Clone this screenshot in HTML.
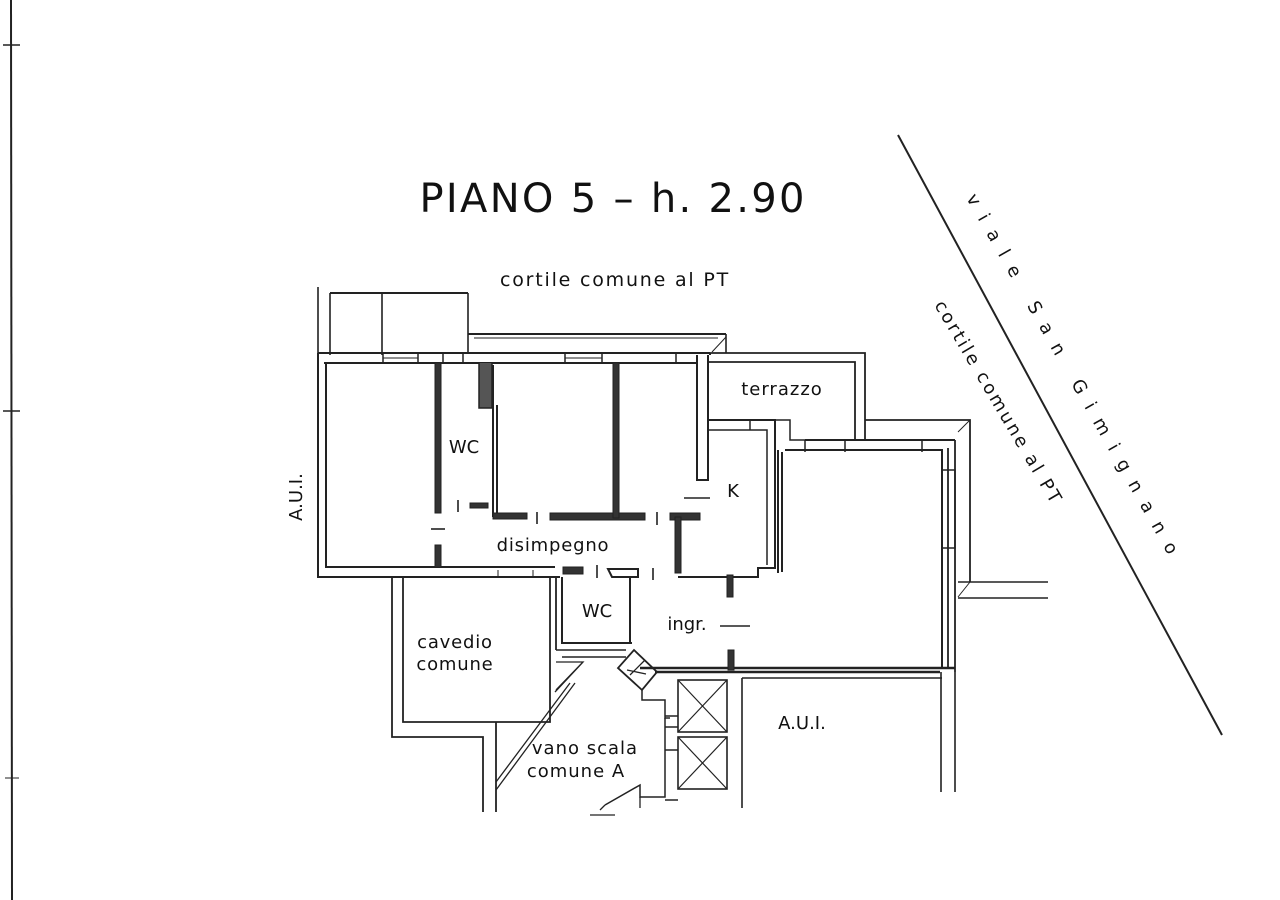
<!DOCTYPE html>
<html><head><meta charset="utf-8"><style>
html,body{margin:0;padding:0;background:#fff;}
svg{display:block}
text{font-family:"DejaVu Sans","Liberation Sans",sans-serif;fill:#111}
</style></head><body>
<svg width="1280" height="900" viewBox="0 0 1280 900" xmlns="http://www.w3.org/2000/svg">
<g stroke="#222" fill="none" stroke-width="1.6">
<line x1="11" y1="0" x2="12" y2="900" stroke-width="2"/>
<line x1="3" y1="45" x2="20" y2="45"/><line x1="3" y1="411" x2="20" y2="411"/><line x1="5" y1="778" x2="19" y2="778" stroke-width="1"/>
<line x1="898" y1="135" x2="1222" y2="735" stroke-width="2"/>
<line x1="318" y1="287" x2="318" y2="355"/>
<line x1="330" y1="293" x2="330" y2="355"/>
<line x1="330" y1="293" x2="468" y2="293" stroke-width="2"/>
<line x1="382" y1="293" x2="382" y2="355"/>
<line x1="468" y1="293" x2="468" y2="353"/>
<line x1="468" y1="334" x2="726" y2="334" stroke-width="2"/>
<line x1="474" y1="338" x2="718" y2="338" stroke-width="1"/>
<line x1="726" y1="334" x2="726" y2="353"/>
<line x1="726" y1="337" x2="712" y2="352" stroke-width="1"/>
<path d="M318 353 H710 M324 363 H697 M710 353 V355" stroke-width="2"/>
<path d="M383 353V363 M418 353V363 M443 353V363 M463 353V363 M565 353V363 M602 353V363 M676 353V363" stroke-width="1.5"/>
<line x1="383" y1="358" x2="418" y2="358" stroke-width="1"/>
<line x1="565" y1="358" x2="602" y2="358" stroke-width="1"/>
<path d="M318 353 V577 H560 M326 363 V567 H555" stroke-width="2"/>
<rect x="435" y="363" width="6" height="150" fill="#333" stroke-width="1"/>
<rect x="435" y="545" width="6" height="22" fill="#333" stroke-width="1"/>
<line x1="431" y1="529" x2="445" y2="529"/>
<path d="M479 363 V408 H492 V363" stroke-width="1.5" fill="#555"/>
<path d="M493 365 V517 M497 405 V513" stroke-width="2"/>
<rect x="493" y="513" width="34" height="6" fill="#333" stroke-width="1"/>
<rect x="470" y="503" width="18" height="5" fill="#333" stroke-width="1"/>
<line x1="458" y1="500" x2="458" y2="512"/>
<line x1="537" y1="512" x2="537" y2="524"/>
<rect x="550" y="513" width="95" height="7" fill="#333" stroke-width="1"/>
<rect x="613" y="363" width="6" height="155" fill="#333" stroke-width="1"/>
<line x1="657" y1="512" x2="657" y2="525"/>
<rect x="670" y="513" width="30" height="7" fill="#333" stroke-width="1"/>
<rect x="675" y="517" width="6" height="56" fill="#333" stroke-width="1"/>
<path d="M697 355 V480 H708 V355" stroke-width="2"/>
<line x1="684" y1="498" x2="710" y2="498"/>
<path d="M708 420 H775 V568 H758 V577 H678" stroke-width="2"/>
<path d="M708 430 H767 V565" stroke-width="1.5"/>
<path d="M750 420 V430" stroke-width="1.5"/>
<rect x="727" y="575" width="6" height="22" fill="#333" stroke-width="1"/>
<path d="M708 353 H865 V440 M708 362 H855 V440" stroke-width="1.8"/>
<path d="M775 420 H790 V440 H805" stroke-width="1.5"/>
<path d="M805 440 H955 M778 450 V573 M785 450 H942 V668 M782 452 V572" stroke-width="2"/>
<path d="M805 440 V452 M845 440 V452 M922 440 V452" stroke-width="1.5"/>
<path d="M865 420 H970 V582 M955 440 V672 M948 448 V668" stroke-width="1.8"/>
<path d="M970 420 L958 432" stroke-width="1"/>
<rect x="942" y="470" width="13" height="78" stroke-width="1.5"/>
<path d="M970 582 L958 597" stroke-width="1"/>
<line x1="958" y1="582" x2="1048" y2="582"/>
<line x1="958" y1="598" x2="1048" y2="598"/>
<path d="M640 668 H955 M655 672 H940" stroke-width="2.5"/>
<rect x="728" y="650" width="6" height="20" fill="#333" stroke-width="1"/>
<line x1="720" y1="626" x2="750" y2="626"/>
<rect x="563" y="567" width="20" height="7" fill="#333" stroke-width="1"/>
<line x1="597" y1="565" x2="597" y2="578"/>
<path d="M608 569 H638 V577 H612 Z" stroke-width="2"/>
<line x1="653" y1="568" x2="653" y2="580"/>
<line x1="498" y1="570" x2="498" y2="577" stroke-width="1"/>
<line x1="533" y1="570" x2="533" y2="577" stroke-width="1"/>
<path d="M392 577 V737 H483 V812 M403 577 V722 H550 V577 M550 583 V722 M556 577 V650 M496 722 V812" stroke-width="1.8"/>
<path d="M562 577 V643 H632 M630 577 V643" stroke-width="2"/>
<path d="M556 650 H626 M562 657 H626" stroke-width="1.5"/>
<path d="M556 662 H583 L556 690 M583 662 L555 692 M496 790 L575 683 M496 782 L570 683" stroke-width="1.3"/>
<path d="M634 650 L657 672 L642 690 L618 668 Z" stroke-width="1.8"/>
<path d="M645 660 L630 675 M627 670 L646 674" stroke-width="1.3"/>
<path d="M655 668 H665 M642 690 V700 H665 V718 H670" stroke-width="1.5"/>
<path d="M665 718 V797 H640 V785 L605 805 M665 716 H678 M665 727 H678 M665 750 H678 M665 800 H678" stroke-width="1.5"/>
<path d="M640 797 V808 M605 805 L600 810 M590 815 H615" stroke-width="1.3"/>
<rect x="678" y="680" width="49" height="52"/>
<line x1="678" y1="680" x2="727" y2="732" stroke-width="1.2"/><line x1="727" y1="680" x2="678" y2="732" stroke-width="1.2"/>
<rect x="678" y="737" width="49" height="52"/>
<line x1="678" y1="737" x2="727" y2="789" stroke-width="1.2"/><line x1="727" y1="737" x2="678" y2="789" stroke-width="1.2"/>
<line x1="742" y1="678" x2="742" y2="808"/>
<line x1="742" y1="678" x2="942" y2="678"/>
<line x1="941" y1="672" x2="941" y2="792"/>
<line x1="955" y1="672" x2="955" y2="792"/>
</g>
<text x="612" y="212" font-size="40" text-anchor="middle" textLength="385">PIANO 5 – h. 2.90</text>
<text x="615" y="286" font-size="19" text-anchor="middle" letter-spacing="1.8">cortile comune al PT</text>
<text x="782" y="395" font-size="18" text-anchor="middle" letter-spacing="1">terrazzo</text>
<text x="464" y="453" font-size="18" text-anchor="middle">WC</text>
<text x="733" y="497" font-size="18" text-anchor="middle">K</text>
<text x="553" y="551" font-size="18" text-anchor="middle" letter-spacing="0.8">disimpegno</text>
<text x="597" y="617" font-size="18" text-anchor="middle">WC</text>
<text x="687" y="630" font-size="18" text-anchor="middle">ingr.</text>
<text x="455" y="648" font-size="18" text-anchor="middle" letter-spacing="0.8">cavedio</text>
<text x="455" y="670" font-size="18" text-anchor="middle" letter-spacing="0.8">comune</text>
<text x="802" y="729" font-size="18" text-anchor="middle">A.U.I.</text>
<text x="585" y="754" font-size="18" text-anchor="middle" letter-spacing="1">vano scala</text>
<text x="576" y="777" font-size="18" text-anchor="middle" letter-spacing="1">comune A</text>
<text transform="translate(302,497) rotate(-90)" font-size="18" text-anchor="middle">A.U.I.</text>
<text transform="translate(966,198) rotate(60.5)" font-size="18" letter-spacing="12.5">viale San Gimignano</text>
<text transform="translate(934,305) rotate(59.5)" font-size="18" letter-spacing="2.5">cortile comune al PT</text>
</svg>
</body></html>
